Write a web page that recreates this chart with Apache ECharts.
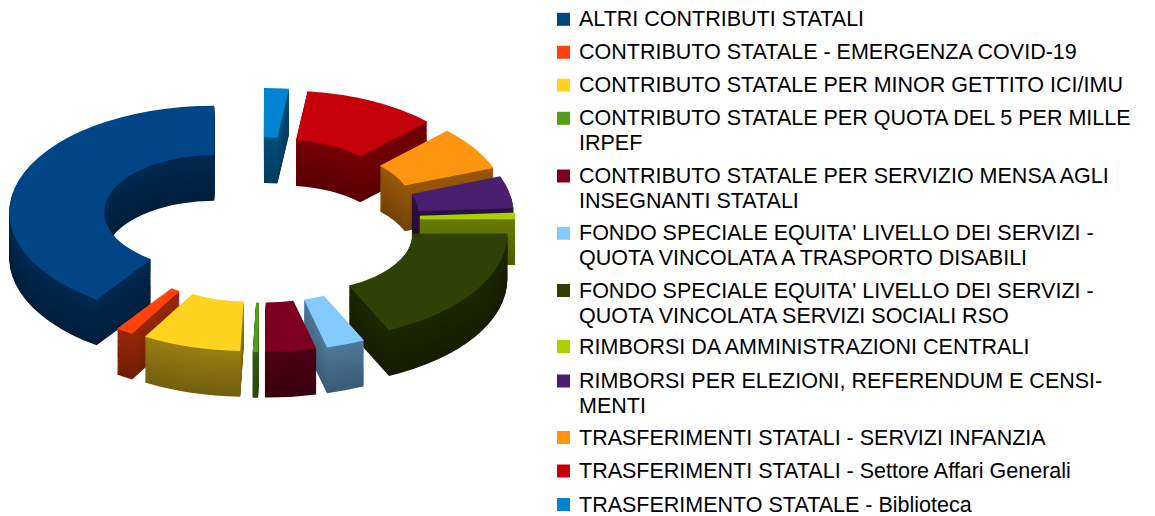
<!DOCTYPE html>
<html><head><meta charset="utf-8">
<script src="https://cdn.jsdelivr.net/npm/echarts@6/dist/echarts.min.js"></script>
<style>
html,body{margin:0;padding:0;background:#fff;overflow:hidden;width:1155px;height:516px;}
#pie{position:absolute;left:0;top:0;width:530px;height:800px;transform:scaleY(0.52);transform-origin:0 0;}
#main{position:absolute;left:0;top:0;width:1155px;height:516px;}
</style></head><body>
<div id="pie"></div><div id="main"></div>
<script>
const categories = [
  "ALTRI CONTRIBUTI STATALI",
  "CONTRIBUTO STATALE - EMERGENZA COVID-19",
  "CONTRIBUTO STATALE PER MINOR GETTITO ICI/IMU",
  "CONTRIBUTO STATALE PER QUOTA DEL 5 PER MILLE IRPEF",
  "CONTRIBUTO STATALE PER SERVIZIO MENSA AGLI INSEGNANTI STATALI",
  "FONDO SPECIALE EQUITA' LIVELLO DEI SERVIZI - QUOTA VINCOLATA A TRASPORTO DISABILI",
  "FONDO SPECIALE EQUITA' LIVELLO DEI SERVIZI - QUOTA VINCOLATA SERVIZI SOCIALI RSO",
  "RIMBORSI DA AMMINISTRAZIONI CENTRALI",
  "RIMBORSI PER ELEZIONI, REFERENDUM E CENSIMENTI",
  "TRASFERIMENTI STATALI - SERVIZI INFANZIA",
  "TRASFERIMENTI STATALI - Settore Affari Generali",
  "TRASFERIMENTO STATALE - Biblioteca"
];
const legendLabels = [
  "ALTRI CONTRIBUTI STATALI",
  "CONTRIBUTO STATALE - EMERGENZA COVID-19",
  "CONTRIBUTO STATALE PER MINOR GETTITO ICI/IMU",
  "CONTRIBUTO STATALE PER QUOTA DEL 5 PER MILLE\nIRPEF",
  "CONTRIBUTO STATALE PER SERVIZIO MENSA AGLI\nINSEGNANTI STATALI",
  "FONDO SPECIALE EQUITA' LIVELLO DEI SERVIZI -\nQUOTA VINCOLATA A TRASPORTO DISABILI",
  "FONDO SPECIALE EQUITA' LIVELLO DEI SERVIZI -\nQUOTA VINCOLATA SERVIZI SOCIALI RSO",
  "RIMBORSI DA AMMINISTRAZIONI CENTRALI",
  "RIMBORSI PER ELEZIONI, REFERENDUM E CENSI-\nMENTI",
  "TRASFERIMENTI STATALI - SERVIZI INFANZIA",
  "TRASFERIMENTI STATALI - Settore Affari Generali",
  "TRASFERIMENTO STATALE - Biblioteca"
];
// share of total (%)
const values = [40.28, 1.39, 7.78, 0.42, 4.03, 3.06, 18.06, 0.97, 4.86, 6.67, 10.55, 1.95];
const colors = ["#004586","#ff420e","#ffd320","#579d1c","#7e0021","#83caff","#314004","#aecf00","#4b1f6f","#ff950e","#c5000b","#0084d1"];

function shade(hex, f) {
  const n = parseInt(hex.slice(1), 16);
  const r = Math.round(((n >> 16) & 255) * f), g = Math.round(((n >> 8) & 255) * f), b = Math.round((n & 255) * f);
  return "rgb(" + r + "," + g + "," + b + ")";
}

// ---- 3D-looking exploded doughnut (flattened container) ----
const pie = echarts.init(document.getElementById('pie'), null, {renderer: 'svg'});
const CX = 261, CY = 423, DEPTH = 88, STEPS = 44;
function pieLayer(offset, factor, z) {
  const col = (i) => factor === 1 ? colors[i] : shade(colors[i], factor);
  return {
    type: 'pie', silent: true, animation: false, z: z,
    center: [CX, CY + offset], radius: [110, 205],
    startAngle: 90, clockwise: false,
    selectedMode: 'multiple', selectedOffset: 49,
    label: {show: false}, labelLine: {show: false},
    emphasis: {disabled: true},
    itemStyle: {borderWidth: 0},
    data: categories.map((n, i) => ({
      name: n, value: values[i], selected: true,
      itemStyle: {color: col(i)},
      select: {itemStyle: {color: col(i)}}
    }))
  };
}
const layers = [];
for (let s = STEPS; s >= 1; s--) {
  const off = DEPTH * s / STEPS;
  layers.push(pieLayer(off, 0.45 + 0.15 * (1 - s / STEPS), 2 + (STEPS - s)));
}
layers.push(pieLayer(0, 1, 200));
pie.setOption({animation: false, series: layers});

// ---- legend (one component per text line) ----
const main = echarts.init(document.getElementById('main'), null, {renderer: 'svg'});
const rowCenters = [19.3, 52.3, 85.2, 118.3, 176, 233.3, 290.5, 346.5, 381, 437.5, 471, 504.5];
const LH = 25;
const legends = [];
categories.forEach((n, i) => {
  legendLabels[i].split('\n').forEach((line, j) => {
    legends.push({
      orient: 'vertical', left: 557, top: rowCenters[i] + j * LH - LH / 2,
      padding: 0, selectedMode: false, icon: 'rect', itemWidth: 13, itemHeight: 13,
      textStyle: {fontFamily: 'Liberation Sans', fontSize: 21.5, color: '#000', lineHeight: LH, padding: [0, 0, 0, 4]},
      formatter: () => line,
      data: [j === 0 ? {name: n} : {name: n, itemStyle: {color: 'rgba(0,0,0,0)', borderWidth: 0}}]
    });
  });
});
main.setOption({
  animation: false,
  legend: legends,
  series: [{
    type: 'pie', silent: true, center: [-2000, -2000], radius: [0, 1],
    label: {show: false}, labelLine: {show: false},
    data: categories.map((n, i) => ({name: n, value: values[i], itemStyle: {color: colors[i]}}))
  }]
});
</script>
</body></html>
